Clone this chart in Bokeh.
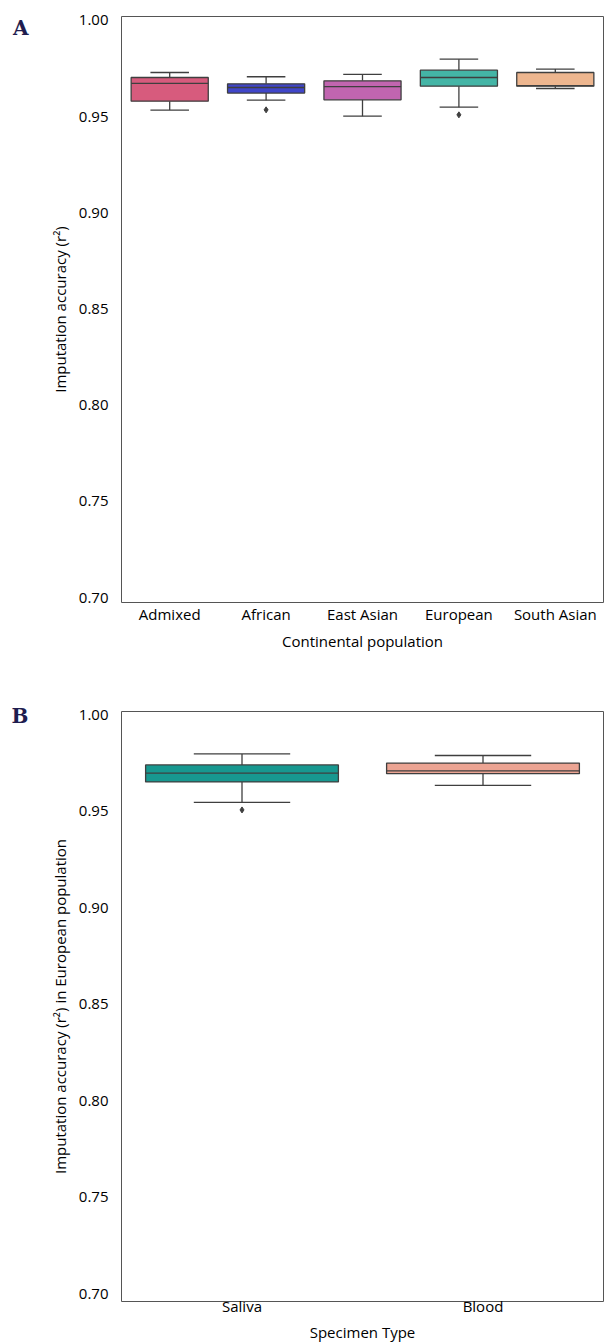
from bokeh.plotting import figure
from bokeh.layouts import column
from bokeh.models import (FactorRange, Range1d, FixedTicker, PrintfTickFormatter,
                          ColumnDataSource, LinearAxis)
from bokeh.transform import dodge
from bokeh.embed import file_html
from bokeh.resources import INLINE

# Panel A data
populations = ["Admixed", "African", "East Asian", "European", "South Asian"]
a_whisker_low = [0.9534, 0.9585, 0.9502, 0.9549, 0.9646]
a_q1 = [0.9580, 0.9622, 0.9587, 0.9658, 0.9658]
a_median = [0.9672, 0.9651, 0.9656, 0.9703, 0.9661]
a_q3 = [0.9703, 0.9670, 0.9686, 0.9741, 0.9729]
a_whisker_high = [0.9729, 0.9707, 0.9719, 0.9798, 0.9747]
a_outlier_cats = ["African", "European"]
a_outlier_vals = [0.9535, 0.9509]
a_colors = ["#d75b7d", "#4046c9", "#c165b0", "#44b5a6", "#edb68f"]

# Panel B data
specimens = ["Saliva", "Blood"]
b_whisker_low = [0.9546, 0.9634]
b_q1 = [0.9652, 0.9695]
b_median = [0.9698, 0.9709]
b_q3 = [0.9740, 0.9750]
b_whisker_high = [0.9797, 0.9789]
b_outlier_cats = ["Saliva"]
b_outlier_vals = [0.9507]
b_colors = ["#179890", "#eca493"]

y_ticks = [0.70, 0.75, 0.80, 0.85, 0.90, 0.95, 1.00]

FONT = "Open Sans"
EDGE = "#3f3f3f"


def box_figure(cats, lo, q1, med, q3, hi, ocats, ovals, colors, ylabel, xlabel,
               y0, y1, height, btop, bbottom, bleft, letter, letter_val, letter_standoff,
               xlab_standoff, xtitle_standoff):
    p = figure(width=604, height=height, x_range=FactorRange(factors=cats),
               y_range=Range1d(y0, y1), output_backend="svg",
               toolbar_location=None, tools="")
    p.min_border_top = btop
    p.min_border_bottom = bbottom
    p.min_border_left = bleft
    p.min_border_right = 1
    src = ColumnDataSource(dict(cat=cats, lo=lo, q1=q1, med=med, q3=q3, hi=hi, color=colors))
    # whisker stems
    p.segment(x0="cat", x1="cat", y0="q3", y1="hi", source=src, line_color=EDGE, line_width=1.3)
    p.segment(x0="cat", x1="cat", y0="lo", y1="q1", source=src, line_color=EDGE, line_width=1.3)
    # caps
    for col in ("hi", "lo"):
        p.segment(x0=dodge("cat", -0.2, range=p.x_range), x1=dodge("cat", 0.2, range=p.x_range),
                  y0=col, y1=col, source=src, line_color=EDGE, line_width=1.3)
    # boxes
    p.vbar(x="cat", top="q3", bottom="q1", width=0.8, source=src, fill_color="color",
           line_color=EDGE, line_width=1.3)
    # medians
    p.segment(x0=dodge("cat", -0.4, range=p.x_range), x1=dodge("cat", 0.4, range=p.x_range),
              y0="med", y1="med", source=src, line_color=EDGE, line_width=1.3)
    # outliers
    p.scatter(x=ocats, y=ovals, marker="diamond", size=6, fill_color=EDGE, line_color=EDGE)

    p.xgrid.grid_line_color = None
    p.ygrid.grid_line_color = None
    p.outline_line_color = "#555555"
    p.outline_line_width = 1
    p.yaxis.ticker = FixedTicker(ticks=y_ticks)
    p.yaxis.formatter = PrintfTickFormatter(format="%.2f")
    for ax in (p.xaxis, p.yaxis):
        ax.axis_line_color = None
        ax.major_tick_line_color = None
        ax.minor_tick_line_color = None
        ax.major_tick_out = 0
        ax.major_tick_in = 0
        ax.minor_tick_out = 0
        ax.minor_tick_in = 0
        ax.major_label_text_font = FONT
        ax.major_label_text_font_size = "15px"
        ax.major_label_text_color = "#000000"
        ax.axis_label_text_font = FONT
        ax.axis_label_text_font_size = "15px"
        ax.axis_label_text_font_style = "normal"
        ax.axis_label_text_color = "#000000"
    p.yaxis.major_label_standoff = 13
    p.yaxis.axis_label_standoff = 6
    p.xaxis.major_label_standoff = xlab_standoff
    p.xaxis.axis_label_standoff = xtitle_standoff
    p.yaxis.axis_label = ylabel
    p.xaxis.axis_label = xlabel

    # panel letter, drawn as the single label of an extra outer axis
    letter_axis = LinearAxis(ticker=FixedTicker(ticks=[letter_val]),
                             major_label_overrides={letter_val: letter},
                             axis_line_color=None, major_tick_line_color=None,
                             minor_tick_line_color=None, major_tick_out=0, major_tick_in=0,
                             minor_tick_out=0, minor_tick_in=0,
                             major_label_standoff=letter_standoff,
                             major_label_text_font="DejaVu Serif",
                             major_label_text_font_style="bold",
                             major_label_text_font_size="20px",
                             major_label_text_color="#1f1d4f")
    p.add_layout(letter_axis, "left")
    return p


pA = box_figure(populations, a_whisker_low, a_q1, a_median, a_q3, a_whisker_high,
                a_outlier_cats, a_outlier_vals, a_colors,
                "Imputation accuracy (r²)", "Continental population",
                0.6975, 1.002, 660, 16, 58, 121, "A", 0.99628, 18, 1, 4)
pB = box_figure(specimens, b_whisker_low, b_q1, b_median, b_q3, b_whisker_high,
                b_outlier_cats, b_outlier_vals, b_colors,
                "Imputation accuracy (r²) in European population", "Specimen Type",
                0.696, 1.0017, 684, 51, 42, 119, "B", 0.99911, 18, -6, 3)

layout = column(pA, pB, spacing=0)
open("out.html", "w").write(file_html(layout, INLINE))
